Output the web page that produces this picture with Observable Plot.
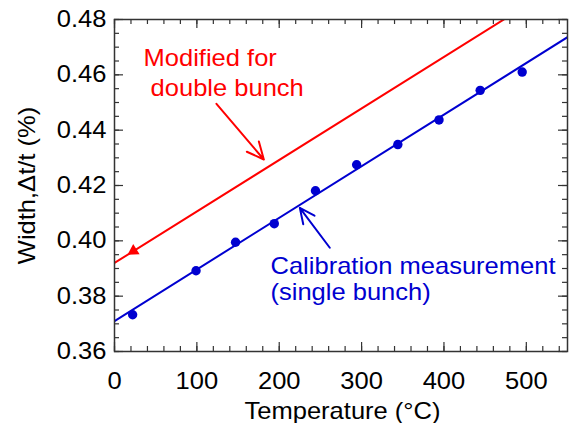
<!DOCTYPE html>
<html>
<head>
<meta charset="utf-8">
<script src="https://cdn.jsdelivr.net/npm/d3@7"></script>
<script src="https://cdn.jsdelivr.net/npm/@observablehq/plot@0.6"></script>
<style>
  html, body { margin: 0; padding: 0; background: #fff; }
</style>
</head>
<body>
<script>
// ---- data ----
const temps  = [22, 99, 147, 194, 244, 294, 344, 394, 444, 495];
const widths = [0.3733, 0.3892, 0.3995, 0.4062, 0.4181, 0.4275, 0.4348, 0.4437, 0.4544, 0.4610];

// fitted lines (end points)
const fitX      = [0, 550];
const calibY    = [0.3710, 0.4736];
const doubleY   = [0.3920, 0.4944];

// small arrowhead marker on red line
const markX = [23];
const markY = [0.3963];

// ticks
const xMajor = [0, 100, 200, 300, 400, 500];
const xMinor = d3.range(0, 551, 20);
const yMajor = [0.36, 0.38, 0.40, 0.42, 0.44, 0.46, 0.48];
const yMinor = d3.range(0, 25).map(i => +(0.36 + i * 0.005).toFixed(3));

// annotation texts
const redText   = ["Modified for", "double bunch"];
const redTextX  = [116.2, 136.8];
const redTextY  = [0.4658, 0.4549];
const blueText  = ["Calibration measurement", "(single bunch)"];
const blueTextX = [189.4, 189.4];
const blueTextY = [0.3907, 0.3811];

// arrows [x1, y1, x2, y2]
const redArrow  = [123.8, 0.4495, 181.3, 0.4294];
const blueArrow = [261.4, 0.3975, 225.0, 0.4119];

const xLabel = "Temperature (°C)";
const yLabel = "Width,Δt/t (%)";

const RED = "#ff0000";
const BLUE = "#0000d0";
const AX = "#333333";

const W = 576, H = 423;
const mL = 114, mR = 9, mT = 19, mB = 72;
const fw = W - mL - mR, fh = H - mT - mB;

const pts = temps.map((t, i) => ({t, w: widths[i]}));
const calib = fitX.map((x, i) => ({x, y: calibY[i]}));
const dbl = fitX.map((x, i) => ({x, y: doubleY[i]}));

const chart = Plot.plot({
  width: W, height: H,
  marginLeft: mL, marginRight: mR, marginTop: mT, marginBottom: mB,
  style: {fontFamily: "'Liberation Sans', Arial, sans-serif", fontSize: "23px", color: "#000", background: "#fff"},
  x: {domain: [0, 550]},
  y: {domain: [0.36, 0.48]},
  marks: [
    Plot.axisX({ticks: xMajor, tickSize: 0, tickPadding: 21, label: null, tickFormat: d3.format("d")}),
    Plot.axisY({ticks: yMajor, tickSize: 0, tickPadding: 8, label: null, tickFormat: d3.format(".2f")}),
    // inward ticks
    Plot.tickX(xMinor, {x: d => d, insetTop: fh - 5, stroke: AX, strokeWidth: 1.2}),
    Plot.tickX(xMinor, {x: d => d, insetBottom: fh - 5, stroke: AX, strokeWidth: 1.2}),
    Plot.tickX(xMajor, {x: d => d, insetTop: fh - 9, stroke: AX, strokeWidth: 1.2}),
    Plot.tickX(xMajor, {x: d => d, insetBottom: fh - 9, stroke: AX, strokeWidth: 1.2}),
    Plot.tickY(yMinor, {y: d => d, insetRight: fw - 5, stroke: AX, strokeWidth: 1.2}),
    Plot.tickY(yMinor, {y: d => d, insetLeft: fw - 5, stroke: AX, strokeWidth: 1.2}),
    Plot.tickY(yMajor, {y: d => d, insetRight: fw - 9, stroke: AX, strokeWidth: 1.2}),
    Plot.tickY(yMajor, {y: d => d, insetLeft: fw - 9, stroke: AX, strokeWidth: 1.2}),
    // lines
    Plot.line(dbl, {x: "x", y: "y", stroke: RED, strokeWidth: 2, clip: true}),
    Plot.line(calib, {x: "x", y: "y", stroke: BLUE, strokeWidth: 2, clip: true}),
    Plot.dot(markX.map((x, i) => ({x, y: markY[i]})), {x: "x", y: "y", symbol: "triangle", r: 4.5, fill: RED, stroke: "none", rotate: 238}),
    Plot.dot(pts, {x: "t", y: "w", r: 4.7, fill: BLUE, stroke: "none"}),
    // arrows
    Plot.arrow([redArrow], {x1: d => d[0], y1: d => d[1], x2: d => d[2], y2: d => d[3], stroke: RED, strokeWidth: 2, headLength: 14, headAngle: 50}),
    Plot.arrow([blueArrow], {x1: d => d[0], y1: d => d[1], x2: d => d[2], y2: d => d[3], stroke: BLUE, strokeWidth: 2, headLength: 14, headAngle: 50}),
    // annotations
    Plot.text(redText, {x: (d, i) => redTextX[i], y: (d, i) => redTextY[i], text: d => d, fill: RED, textAnchor: "middle", lineAnchor: "middle"}),
    Plot.text(blueText, {x: (d, i) => blueTextX[i], y: (d, i) => blueTextY[i], text: d => d, fill: BLUE, textAnchor: "start", lineAnchor: "middle"}),
    // axis titles
    Plot.text([xLabel], {frameAnchor: "bottom", dy: 60, dx: 1.5, text: d => d, textAnchor: "middle", lineAnchor: "middle", fill: "#000"}),
    Plot.text([yLabel], {frameAnchor: "left", dx: -87, rotate: -90, text: d => d, textAnchor: "middle", lineAnchor: "middle", fill: "#000"}),
    Plot.frame({stroke: AX, strokeWidth: 1.5})
  ]
});

// stretch glyphs horizontally to match the reference's wide lettering
chart.querySelectorAll("text").forEach(t => {
  const tr = t.getAttribute("transform");
  if (tr != null) t.setAttribute("transform", tr + " scale(1.11,1)");
});

document.body.append(chart);
</script>
</body>
</html>
